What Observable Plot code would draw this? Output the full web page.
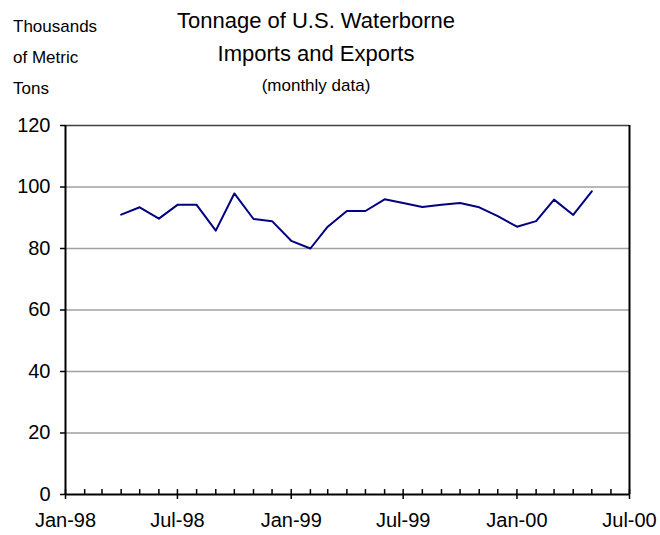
<!DOCTYPE html>
<html>
<head>
<meta charset="utf-8">
<script src="https://cdn.jsdelivr.net/npm/d3@7"></script>
<script src="https://cdn.jsdelivr.net/npm/@observablehq/plot@0.6"></script>
<style>
  body { margin: 0; background: #fff; }
  svg { display: block; }
</style>
</head>
<body>
<div id="chart"></div>
<script>
const months = ["1998-04","1998-05","1998-06","1998-07","1998-08","1998-09","1998-10","1998-11","1998-12",
  "1999-01","1999-02","1999-03","1999-04","1999-05","1999-06","1999-07","1999-08","1999-09","1999-10","1999-11","1999-12",
  "2000-01","2000-02","2000-03","2000-04","2000-05"];
const tonnage = [91.0,93.4,89.7,94.2,94.2,85.8,97.9,89.6,88.9,
  82.5,80.0,87.1,92.2,92.2,96.0,94.8,93.5,94.2,94.8,93.4,90.5,
  87.1,88.9,95.9,90.9,98.6];
const yTicks = [0,20,40,60,80,100,120];
const gridValues = [20,40,60,80,100];
const xStart = "1998-01";
const xEnd = "2000-07";
const titleLines = ["Tonnage of U.S. Waterborne", "Imports and Exports"];
const subtitle = "(monthly data)";
const unitLines = ["Thousands", "of Metric", "Tons"];

const parse = d3.utcParse("%Y-%m");
const data = months.map((m, i) => ({date: parse(m), value: tonnage[i]}));
const x0 = parse(xStart), x1 = parse(xEnd);
const allMonths = d3.utcMonth.range(x0, d3.utcMonth.offset(x1, 1));
const majorMonths = d3.utcMonth.every(6).range(x0, d3.utcMonth.offset(x1, 1));

const font = "Liberation Sans, Arial, sans-serif";

const svg = Plot.plot({
  width: 660,
  height: 535,
  marginTop: 125,
  marginBottom: 41,
  marginLeft: 65,
  marginRight: 31,
  style: {fontFamily: font, fontSize: "20px", color: "#000", background: "#fff"},
  x: {type: "utc", domain: [x0, x1]},
  y: {domain: [0, 120]},
  marks: [
    Plot.ruleY(gridValues, {stroke: "#a0a0a0", strokeWidth: 1.5}),
    Plot.ruleY([120], {stroke: "#404040", strokeWidth: 1.5}),
    Plot.ruleX([x1], {stroke: "#000", strokeWidth: 2}),
    Plot.ruleX(allMonths, {x: d => d, y1: 0, y2: 1.6, stroke: "#000", strokeWidth: 1.5}),
    Plot.axisY({ticks: yTicks, tickSize: 5, tickPadding: 10, label: null, stroke: "#000", strokeWidth: 1.5, fontSize: 20}),
    Plot.axisX({ticks: majorMonths, tickSize: 5, tickPadding: 13, tickFormat: d3.utcFormat("%b-%y"), label: null, stroke: "#000", strokeWidth: 1.5, fontSize: 20}),
    Plot.ruleX([x0], {stroke: "#000", strokeWidth: 2}),
    Plot.ruleY([0], {stroke: "#000", strokeWidth: 2}),
    Plot.lineY(data, {x: "date", y: "value", stroke: "#000080", strokeWidth: 2})
  ]
});

const s = d3.select(svg);
const tg = s.append("g").attr("font-family", font).attr("fill", "#000");
titleLines.forEach((t, i) => {
  tg.append("text").attr("x", 316).attr("y", 28 + i * 33).attr("text-anchor", "middle")
    .attr("font-size", 22).text(t);
});
tg.append("text").attr("x", 316).attr("y", 91).attr("text-anchor", "middle")
  .attr("font-size", 17).text(subtitle);
unitLines.forEach((t, i) => {
  tg.append("text").attr("x", 13).attr("y", 32 + i * 31).attr("text-anchor", "start")
    .attr("font-size", 17).text(t);
});

document.getElementById("chart").appendChild(svg);
</script>
</body>
</html>
